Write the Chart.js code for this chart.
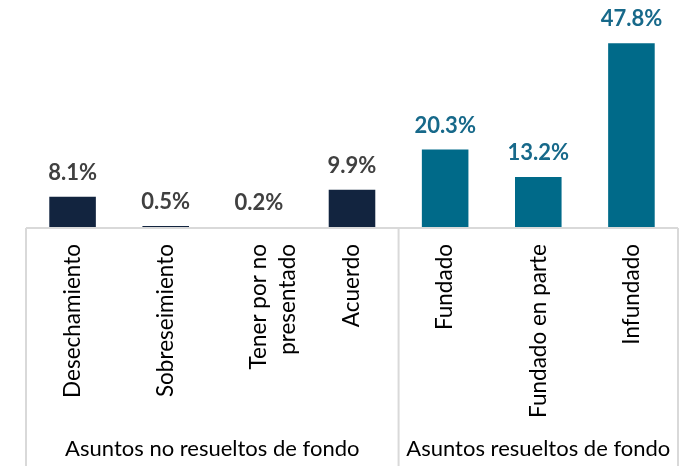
<!DOCTYPE html>
<html lang="es">
<head>
  <meta charset="UTF-8">
  <title>Asuntos por tipo de resolución</title>
  <script src="https://cdn.jsdelivr.net/npm/chart.js"></script>
  <style>
    body { margin: 0; background: #fff; }
    .wrap { width: 689px; height: 466px; position: relative; }
  </style>
</head>
<body>
  <div class="wrap"><canvas id="chart"></canvas></div>

  <script>
    // Datos
    const categories = [
      'Desechamiento',
      'Sobreseimiento',
      ['Tener por no', 'presentado'],
      'Acuerdo',
      'Fundado',
      'Fundado en parte',
      'Infundado'
    ];
    const values = [8.1, 0.5, 0.2, 9.9, 20.3, 13.2, 47.8];
    const groups = ['Asuntos no resueltos de fondo', 'Asuntos resueltos de fondo'];
    const groupSizes = [4, 3];

    const NAVY = '#12243f';
    const TEAL = '#006a89';
    const barColors = values.map((v, i) => i < groupSizes[0] ? NAVY : TEAL);
    const labelColors = values.map((v, i) => i < groupSizes[0] ? '#404040' : '#17698a');
    const FONT = 'Lato, "Open Sans", sans-serif';
    const LINE = '#d9d9d9';

    const valueLabels = {
      id: 'valueLabels',
      afterDatasetsDraw(chart) {
        const ctx = chart.ctx;
        const meta = chart.getDatasetMeta(0);
        ctx.save();
        ctx.font = 'bold 22px ' + FONT;
        ctx.textAlign = 'center';
        ctx.textBaseline = 'alphabetic';
        meta.data.forEach((bar, i) => {
          ctx.fillStyle = labelColors[i];
          ctx.fillText(values[i].toFixed(1) + '%', bar.x, bar.y - 17);
        });
        ctx.restore();
      }
    };

    const groupAxis = {
      id: 'groupAxis',
      afterDraw(chart) {
        const ctx = chart.ctx;
        const x = chart.scales.x;
        const area = chart.chartArea;
        const bottom = chart.height;
        ctx.save();
        ctx.strokeStyle = LINE;
        ctx.lineWidth = 2;
        // baseline
        ctx.beginPath();
        ctx.moveTo(area.left, area.bottom);
        ctx.lineTo(area.right, area.bottom);
        ctx.stroke();
        // group separators
        let start = 0;
        const edges = [area.left];
        groupSizes.forEach(n => {
          start += n;
          edges.push(start >= categories.length ? area.right : (x.getPixelForTick(start - 1) + x.getPixelForTick(start)) / 2);
        });
        edges.forEach(px => {
          ctx.beginPath();
          ctx.moveTo(px, area.bottom);
          ctx.lineTo(px, bottom);
          ctx.stroke();
        });
        // group labels
        ctx.fillStyle = '#000';
        ctx.font = '22px ' + FONT;
        ctx.textAlign = 'center';
        ctx.textBaseline = 'middle';
        groups.forEach((g, i) => {
          ctx.fillText(g, (edges[i] + edges[i + 1]) / 2, 449);
        });
        ctx.restore();
      }
    };

    new Chart(document.getElementById('chart'), {
      type: 'bar',
      data: {
        labels: categories,
        datasets: [{
          data: values,
          backgroundColor: barColors,
          barPercentage: 0.5,
          categoryPercentage: 1
        }]
      },
      options: {
        responsive: true,
        maintainAspectRatio: false,
        animation: false,
        layout: { padding: { left: 26, right: 11, top: 0, bottom: 0 } },
        plugins: {
          legend: { display: false },
          tooltip: { enabled: false }
        },
        scales: {
          x: {
            grid: { display: false, drawTicks: false },
            border: { display: false },
            afterFit(scale) { scale.height = 238; },
            ticks: {
              autoSkip: false,
              minRotation: 90,
              maxRotation: 90,
              padding: 16,
              color: '#000',
              font: { family: FONT, size: 22.5, lineHeight: 1.3 }
            }
          },
          y: {
            display: false,
            min: 0,
            max: 59
          }
        }
      },
      plugins: [valueLabels, groupAxis]
    });
  </script>
</body>
</html>
